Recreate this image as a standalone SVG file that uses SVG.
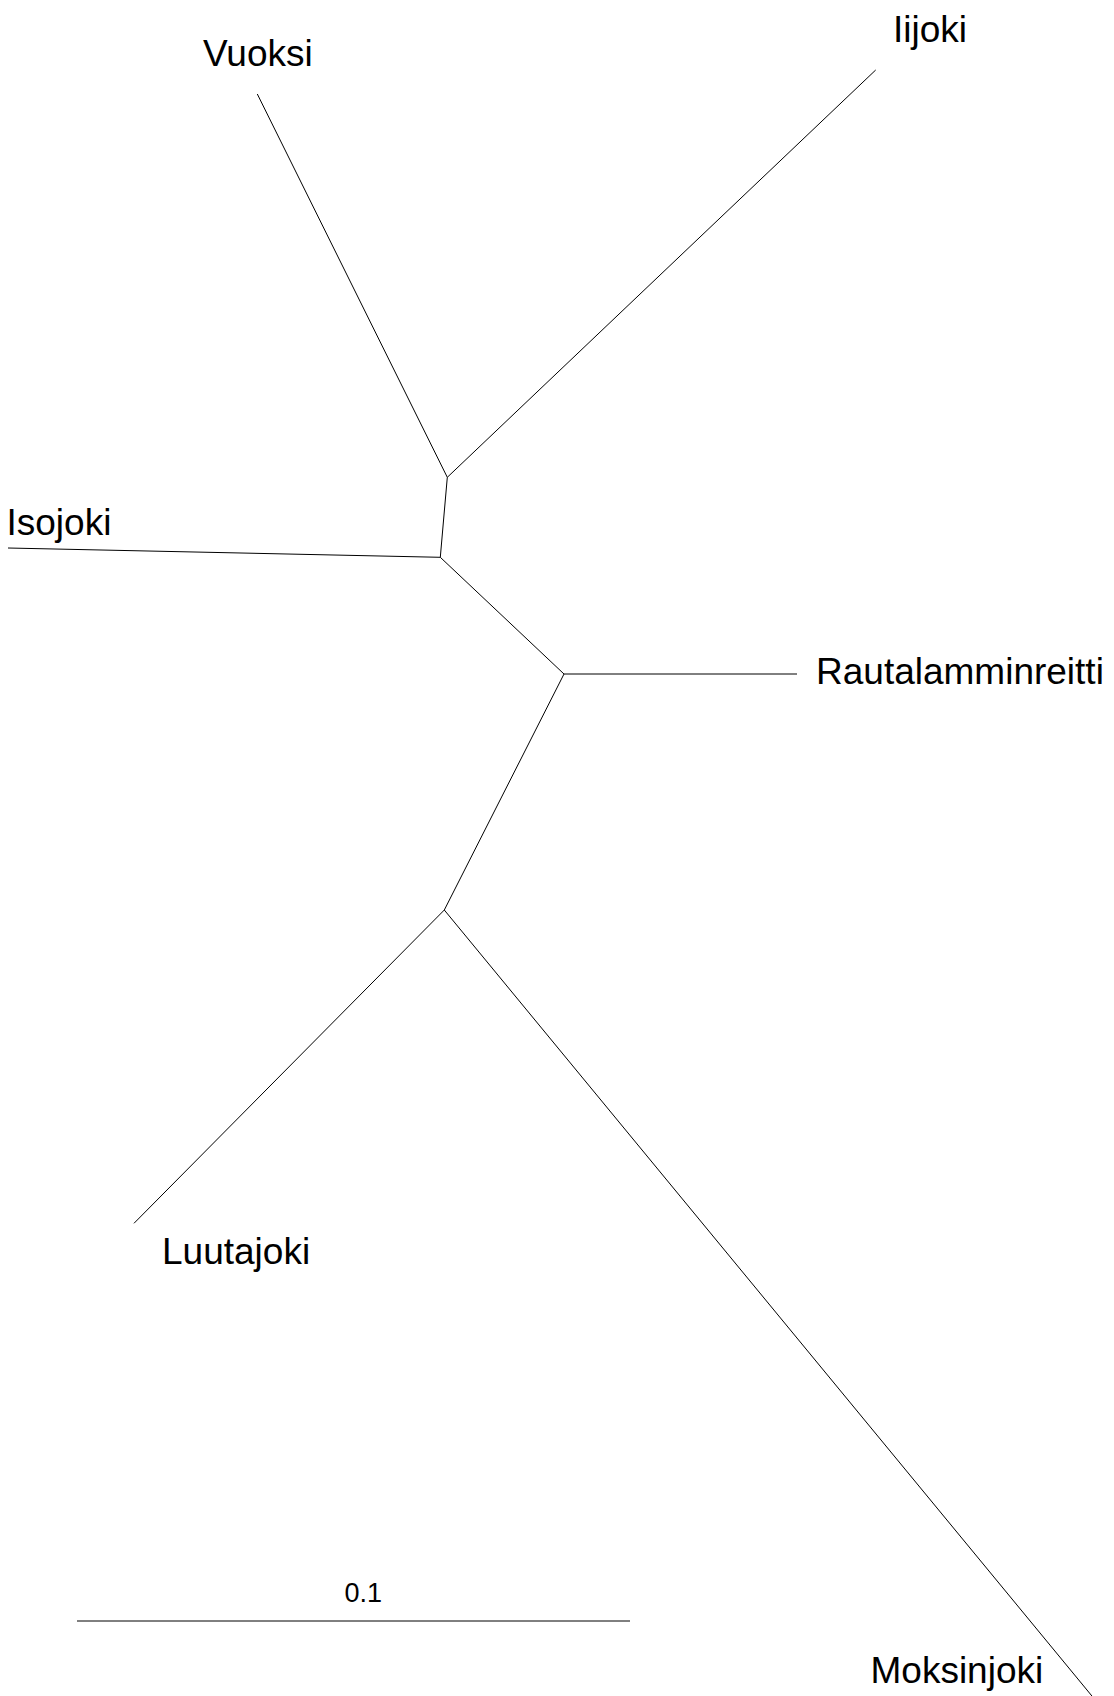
<svg xmlns="http://www.w3.org/2000/svg" width="1114" height="1696" viewBox="0 0 1114 1696">
<style>
.e{stroke:#000;stroke-width:1;fill:none}
.lbl{font-family:"Liberation Sans",Arial,sans-serif;font-size:37px;fill:#000}
.sc{font-family:"Liberation Sans",Arial,sans-serif;font-size:27px;fill:#000}
</style>
<rect width="1114" height="1696" fill="#fff"/>
<g id="connectors">
<line class="e" x1="257.3" y1="94" x2="447.3" y2="477.3"/>
<line class="e" x1="875.7" y1="70" x2="447.3" y2="477.3"/>
<line class="e" x1="447.3" y1="477.3" x2="440.3" y2="557.3"/>
<line class="e" x1="8" y1="548" x2="440.3" y2="557.3"/>
<line class="e" x1="440.3" y1="557.3" x2="564" y2="674"/>
<line class="e" x1="564" y1="674" x2="797" y2="674"/>
<line class="e" x1="564" y1="674" x2="444.3" y2="910"/>
<line class="e" x1="444.3" y1="910" x2="134" y2="1223.3"/>
<line class="e" x1="444.3" y1="910" x2="1101" y2="1707"/>
</g>
<g id="Vuoksi"><text class="lbl" x="203" y="66">Vuoksi</text></g>
<g id="Iijoki"><text class="lbl" x="893" y="42">Iijoki</text></g>
<g id="Isojoki"><text class="lbl" x="6.5" y="535">Isojoki</text></g>
<g id="Rautalamminreitti"><text class="lbl" x="816" y="683.5">Rautalamminreitti</text></g>
<g id="Luutajoki"><text class="lbl" x="162" y="1264">Luutajoki</text></g>
<g id="Moksinjoki"><text class="lbl" x="870.5" y="1682.7">Moksinjoki</text></g>
<g id="scale">
<line class="e" x1="77" y1="1621" x2="630" y2="1621"/>
<text class="sc" x="344.5" y="1601.7">0.1</text>
</g>
</svg>
